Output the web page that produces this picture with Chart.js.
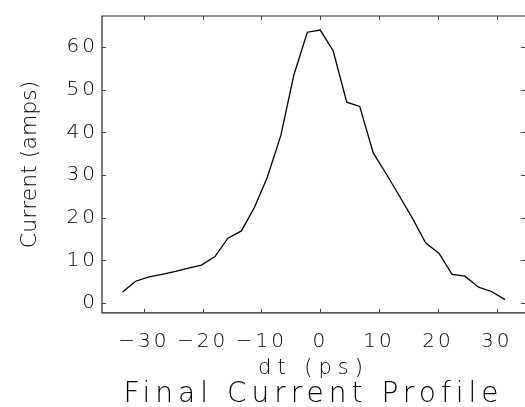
<!DOCTYPE html>
<html lang="en">
<head>
<meta charset="UTF-8">
<title>Final Current Profile</title>
<script src="https://cdn.jsdelivr.net/npm/chart.js"></script>
<style>
  html, body { margin: 0; padding: 0; background: #fff; }
</style>
</head>
<body>
<canvas id="profile" width="525" height="407"></canvas>
<script>
// values
var dt = [-33.6, -31.4, -29.1, -26.9, -24.6, -22.4, -20.2, -17.9, -15.7, -13.4,
          -11.2, -9.0, -6.7, -4.5, -2.2, 0.0, 2.2, 4.5, 6.7, 9.0,
          11.2, 13.4, 15.7, 17.9, 20.2, 22.4, 24.6, 26.9, 29.1, 31.4]
var current = [2.6, 5.1, 6.1, 6.7, 7.4, 8.2, 8.9, 10.9, 15.2, 16.9,
               22.4, 29.5, 39.3, 53.4, 63.5, 64.0, 59.1, 47.1, 46.1, 35.2,
               30.3, 25.2, 19.8, 14.1, 11.6, 6.7, 6.3, 3.7, 2.7, 0.8]
var xTicks = [-30, -20, -10, 0, 10, 20, 30]
var yTicks = [0, 10, 20, 30, 40, 50, 60]
var xRange = [-37.1, 34.8]
var yRange = [-2.3, 67.3]

var FONT = '"DejaVu Sans", sans-serif'

// Chart.js has no letter-spacing option, so pick it from the font size
var spacing = { 20: '3px', 22: '0px', 21: '6px', 28: '5px' }
function spaceText(ctx) {
    var d = Object.getOwnPropertyDescriptor(CanvasRenderingContext2D.prototype, 'font')
    Object.defineProperty(ctx, 'font', {
        get: function () { return d.get.call(this) },
        set: function (v) {
            d.set.call(this, v)
            var m = /(\d+)px/.exec(v)
            this.letterSpacing = (m && spacing[m[1]]) || '0px'
        }
    })
}

// box around the plot with short inward ticks on all four sides
var frame = {
    id: 'frame',
    afterDraw: function (chart) {
        var ctx = chart.ctx, a = chart.chartArea
        var x = chart.scales.x, y = chart.scales.y
        var len = 4
        ctx.save()
        ctx.strokeStyle = '#222'
        ctx.lineWidth = 1.2
        ctx.beginPath()
        ctx.moveTo(a.right + 1, a.top)
        ctx.lineTo(a.left, a.top)
        ctx.lineTo(a.left, a.bottom)
        ctx.lineTo(a.right + 1, a.bottom)
        ctx.stroke()
        ctx.lineWidth = 1
        ctx.strokeStyle = '#444'
        ctx.beginPath()
        xTicks.forEach(function (v) {
            var px = Math.round(x.getPixelForValue(v)) + 0.5
            ctx.moveTo(px, a.bottom); ctx.lineTo(px, a.bottom - len)
            ctx.moveTo(px, a.top); ctx.lineTo(px, a.top + len)
        })
        yTicks.forEach(function (v) {
            var py = Math.round(y.getPixelForValue(v)) + 0.5
            ctx.moveTo(a.left, py); ctx.lineTo(a.left + len, py)
            ctx.moveTo(a.right, py); ctx.lineTo(a.right - len, py)
        })
        ctx.stroke()
        ctx.restore()
    }
}

var canvas = document.getElementById('profile')
var ctx = canvas.getContext('2d')
spaceText(ctx)

var points = dt.map(function (t, i) { return { x: t, y: current[i] } })

var myChart = new Chart(ctx, {
    type: 'line',
    data: {
        datasets: [{
            data: points,
            borderColor: '#000',
            borderWidth: 1.3,
            pointRadius: 0,
            tension: 0,
            fill: false
        }]
    },
    options: {
        responsive: false,
        animation: false,
        devicePixelRatio: 1,
        layout: { padding: { top: 16, right: 0, left: 0, bottom: 0 } },
        plugins: {
            legend: { display: false },
            tooltip: { enabled: false },
            title: {
                display: true,
                position: 'bottom',
                fullSize: false,
                text: 'Final Current Profile',
                color: '#000',
                font: { family: FONT, size: 28, weight: '200', lineHeight: 0.9 },
                padding: 0
            }
        },
        scales: {
            x: {
                type: 'linear',
                min: xRange[0],
                max: xRange[1],
                // tick marks are drawn by the frame plugin; tickLength only spaces the labels
                grid: { display: false, drawTicks: true, tickLength: 8 },
                border: { display: false },
                afterBuildTicks: function (s) { s.ticks = xTicks.map(function (v) { return { value: v } }) },
                afterFit: function (s) { s.height = 69 },
                ticks: {
                    color: '#000',
                    padding: 9,
                    maxRotation: 0,
                    font: { family: FONT, size: 20, weight: '200' },
                    callback: function (v) { return v < 0 ? '\u2212' + Math.abs(v) : String(v) }
                },
                title: {
                    display: true,
                    text: 'dt (ps)',
                    color: '#000',
                    font: { family: FONT, size: 21, weight: '200' },
                    padding: { top: 0, bottom: 1 }
                }
            },
            y: {
                type: 'linear',
                min: yRange[0],
                max: yRange[1],
                grid: { display: false, drawTicks: false },
                border: { display: false },
                afterBuildTicks: function (s) { s.ticks = yTicks.map(function (v) { return { value: v } }) },
                afterFit: function (s) { s.width = 102 },
                ticks: {
                    color: '#000',
                    padding: 4,
                    font: { family: FONT, size: 20, weight: '200' }
                },
                title: {
                    display: true,
                    text: 'Current (amps)',
                    color: '#000',
                    font: { family: FONT, size: 22, weight: '200' },
                    padding: { top: 17, bottom: 0 }
                }
            }
        }
    },
    plugins: [frame]
})
</script>
</body>
</html>
